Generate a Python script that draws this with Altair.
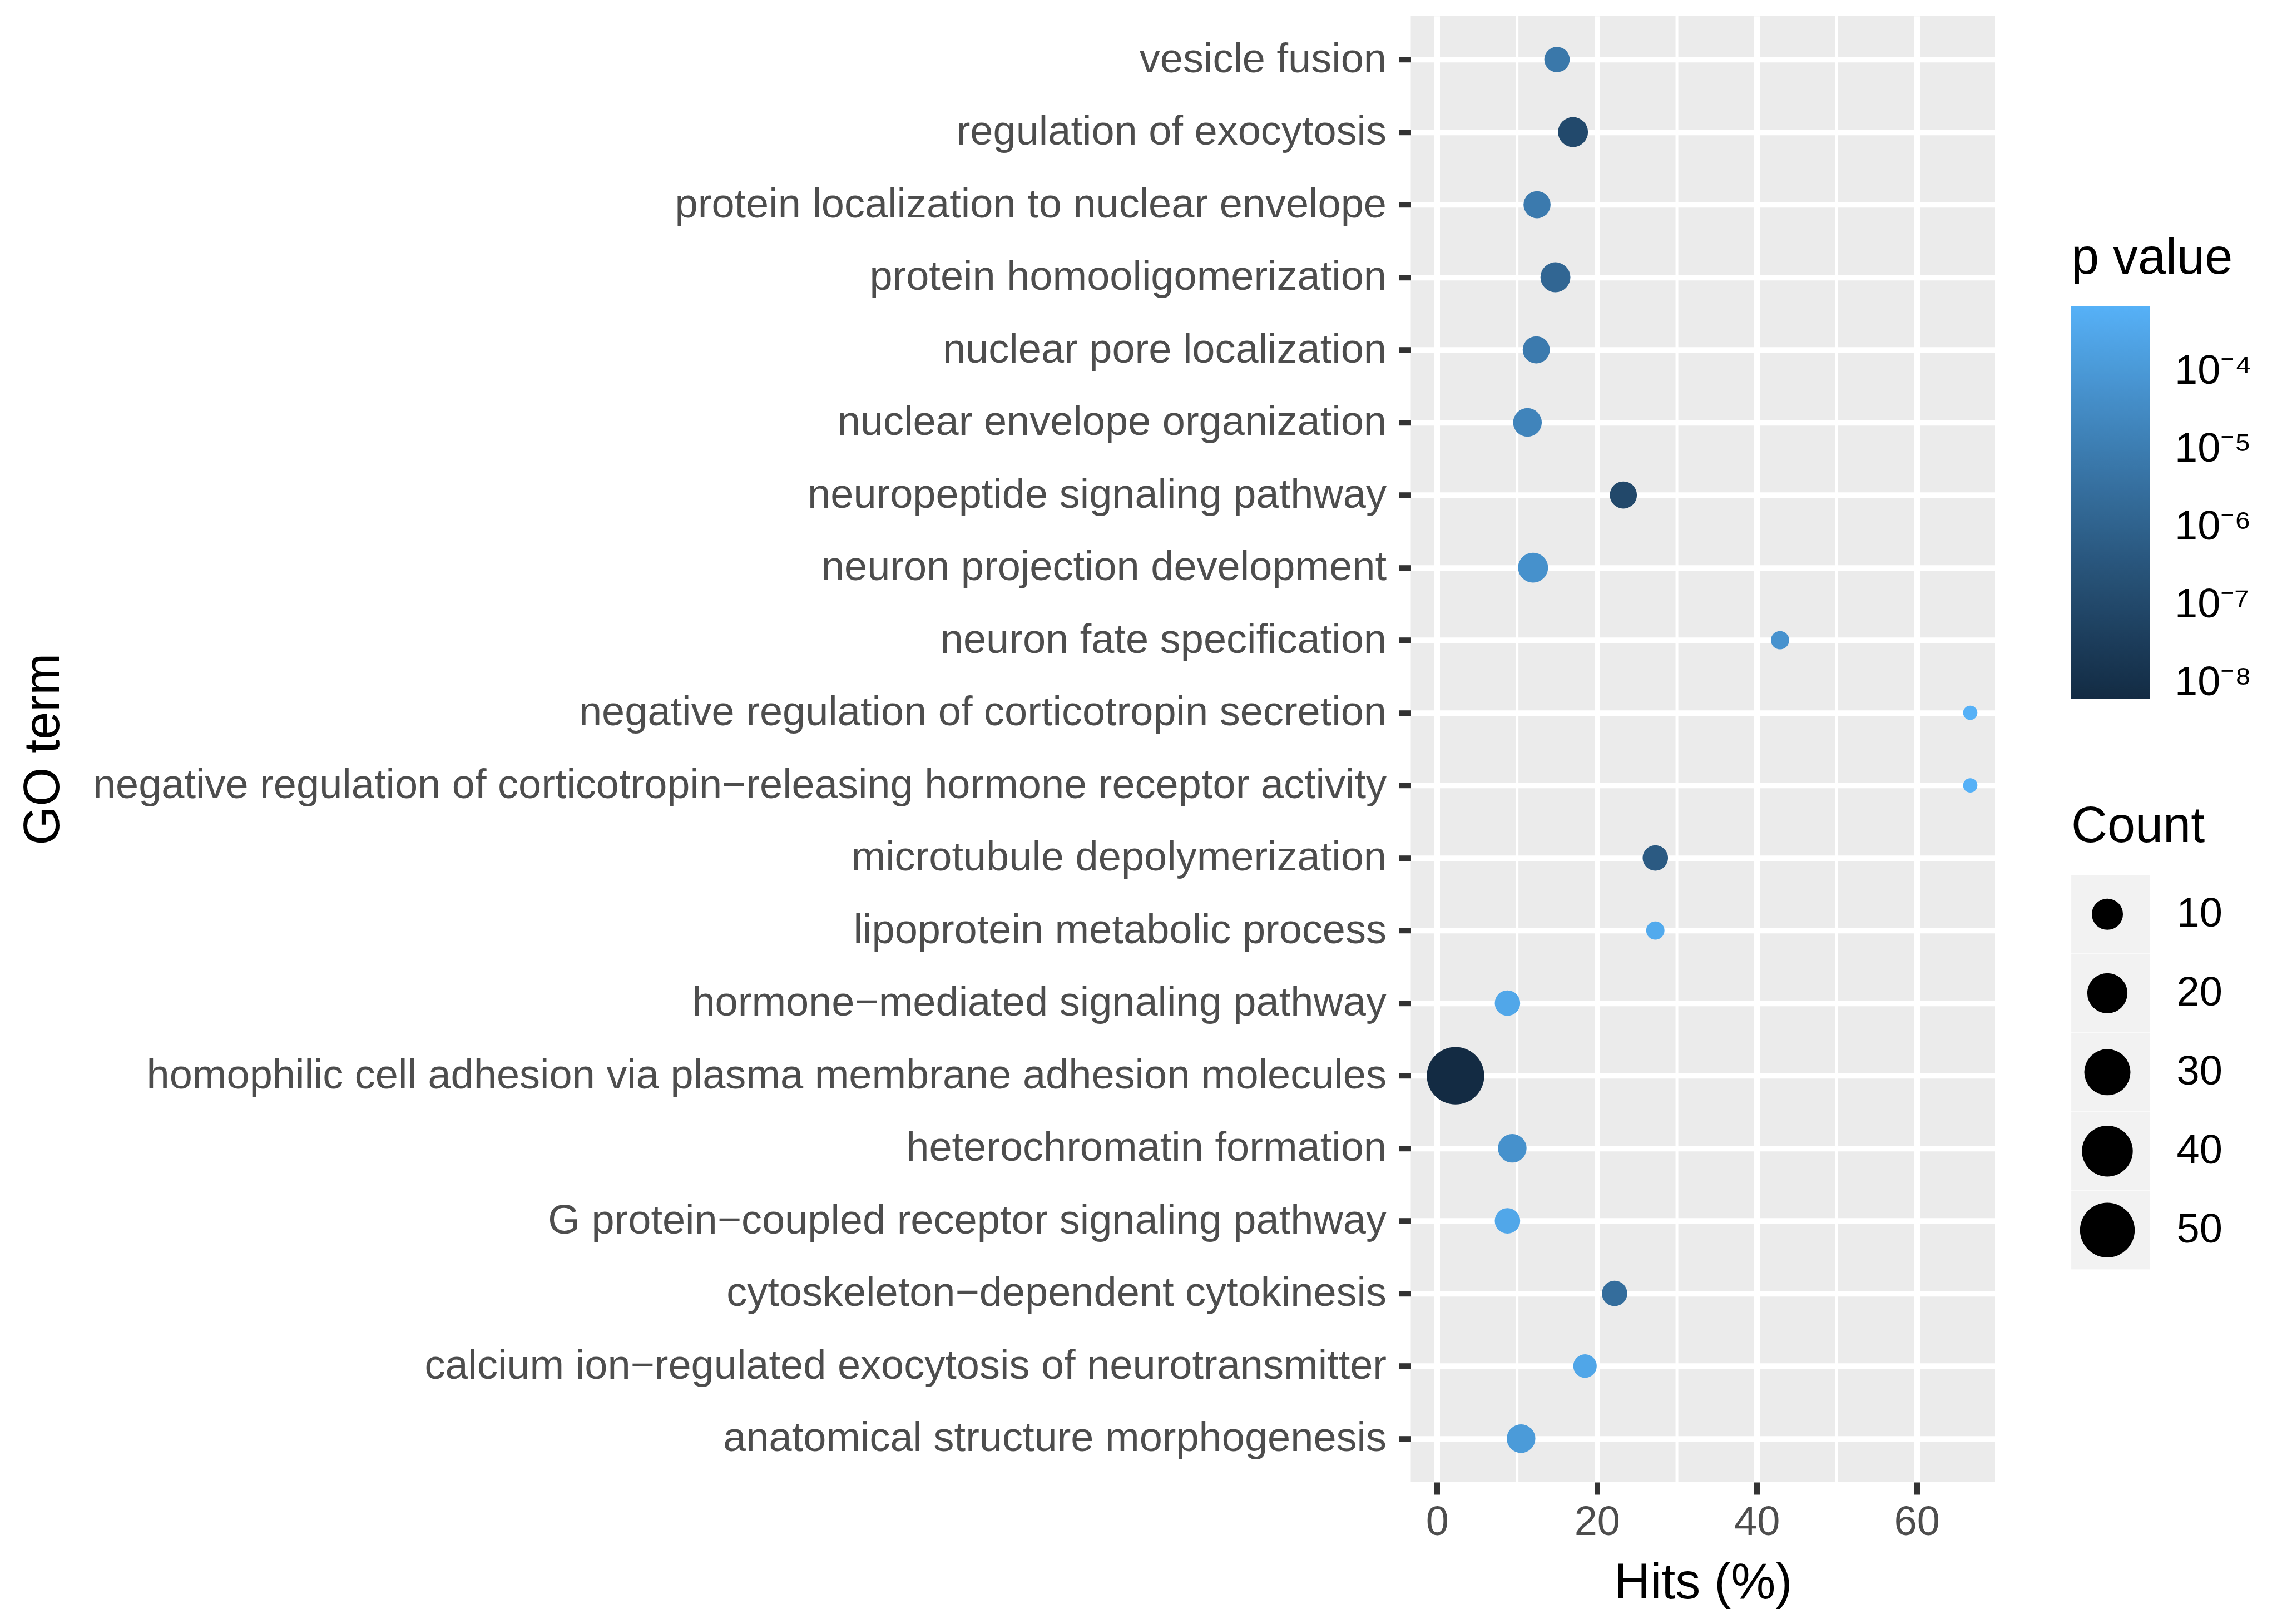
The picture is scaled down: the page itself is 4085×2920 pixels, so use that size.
import altair as alt
import pandas as pd

# ---------------- data ----------------
terms = [
    "vesicle fusion",
    "regulation of exocytosis",
    "protein localization to nuclear envelope",
    "protein homooligomerization",
    "nuclear pore localization",
    "nuclear envelope organization",
    "neuropeptide signaling pathway",
    "neuron projection development",
    "neuron fate specification",
    "negative regulation of corticotropin secretion",
    "negative regulation of corticotropin\u2212releasing hormone receptor activity",
    "microtubule depolymerization",
    "lipoprotein metabolic process",
    "hormone\u2212mediated signaling pathway",
    "homophilic cell adhesion via plasma membrane adhesion molecules",
    "heterochromatin formation",
    "G protein\u2212coupled receptor signaling pathway",
    "cytoskeleton\u2212dependent cytokinesis",
    "calcium ion\u2212regulated exocytosis of neurotransmitter",
    "anatomical structure morphogenesis",
]
hits = [15.0, 17.0, 12.5, 14.8, 12.4, 11.3, 23.3, 12.0, 42.9, 66.7,
        66.7, 27.3, 27.3, 8.8, 2.3, 9.4, 8.8, 22.2, 18.5, 10.5]
counts = [6, 9, 7, 9, 7, 8, 7, 9, 3, 2,
          2, 6, 3, 6, 58, 8, 6, 6, 5, 8]
pvalues = [6.6e-6, 1.1e-7, 8.3e-6, 1.5e-6, 8.3e-6, 1.9e-5, 1.0e-7, 5.4e-5, 6.0e-5, 6.9e-4,
           6.9e-4, 5.1e-7, 3.9e-4, 3.1e-4, 6.2e-9, 5.4e-5, 3.1e-4, 2.6e-6, 2.8e-4, 1.2e-4]

x_ticks = [0, 20, 40, 60]
x_minor = [10, 30, 50]
size_legend_values = [10, 20, 30, 40, 50]
p_ticks = [1e-8, 1e-7, 1e-6, 1e-5, 1e-4]
p_tick_labels = ["10\u207b\u2078", "10\u207b\u2077", "10\u207b\u2076", "10\u207b\u2075", "10\u207b\u2074"]

# ---------------- layout / style ----------------
FONT = "Liberation Sans"
W, H = 1050.5, 2636.3
PAD_L, PAD_T = 2528.5, 20.7
AXIS_TXT = 74
TITLE_TXT = 90
LEG_X = 1187.5

df = pd.DataFrame({"term": terms, "hits": hits, "count": counts, "p": pvalues})

label_expr = ""
for v, lab in zip(p_ticks[:-1], p_tick_labels[:-1]):
    label_expr += f"datum.value < {v * 3:.1e} ? '{lab}' : "
label_expr += f"'{p_tick_labels[-1]}'"

xscale = alt.Scale(domain=[-3.3, 69.8], nice=False, zero=False)
x_axis = alt.Axis(
    values=x_ticks, grid=True, gridColor="white", gridWidth=10,
    tickSize=22, tickWidth=10, tickColor="#333333", domain=False,
    labelFontSize=AXIS_TXT, labelColor="#4D4D4D", labelPadding=14, labelFont=FONT,
    titleFont=FONT, titleFontSize=TITLE_TXT, titleFontWeight="normal", titleColor="black",
    titleX=W / 2, titleY=208, titleBaseline="alphabetic",
)

minor = alt.Chart(pd.DataFrame({"v": x_minor})).mark_rule(
    color="white", strokeWidth=5
).encode(x=alt.X("v:Q", title="Hits (%)", scale=xscale, axis=x_axis))

points = alt.Chart(df).transform_calculate(bg="datum.count").mark_circle(opacity=1).encode(
    x=alt.X("hits:Q", title="Hits (%)", scale=xscale, axis=x_axis),
    y=alt.Y(
        "term:N", sort=terms, title="GO term", scale=alt.Scale(padding=0.6),
        axis=alt.Axis(
            grid=True, gridColor="white", gridWidth=10,
            tickSize=22, tickWidth=10, tickColor="#333333", domain=False,
            labelFontSize=AXIS_TXT, labelColor="#4D4D4D", labelPadding=22, labelFont=FONT,
            labelLimit=4000,
            titleFont=FONT, titleFontSize=TITLE_TXT, titleFontWeight="normal", titleColor="black",
            titleX=105 - (PAD_L + 8), titleY=H / 2, titleBaseline="alphabetic",
        ),
    ),
    color=alt.Color(
        "p:Q",
        scale=alt.Scale(type="log", domain=[6.2e-9, 6.9e-4],
                        range=["#132B43", "#56B1F7"], interpolate="lab"),
        legend=alt.Legend(
            title="p value", orient="none", legendX=LEG_X, legendY=392.3,
            direction="vertical", gradientLength=706, gradientThickness=142,
            gradientStrokeWidth=0, padding=0,
            titleFont=FONT, titleFontSize=TITLE_TXT, titleFontWeight="normal",
            titleColor="black", titlePadding=40, titleLimit=2000,
            labelFont=FONT, labelFontSize=AXIS_TXT, labelColor="black", labelOffset=44,
            values=p_ticks, labelExpr=label_expr, zindex=1,
        ),
    ),
    size=alt.Size(
        "count:Q",
        scale=alt.Scale(type="pow", exponent=0.6, domain=[2, 58], range=[660, 10660]),
        legend=alt.Legend(
            title=None, orient="none", legendX=LEG_X, legendY=1414.3 + 130,
            values=size_legend_values, symbolType="circle",
            symbolFillColor="black", symbolStrokeWidth=0, symbolOpacity=1,
            symbolOffset=15.5,
            clipHeight=141.6, rowPadding=0, padding=0,
            labelFont=FONT, labelFontSize=AXIS_TXT, labelColor="black", labelOffset=75,
            zindex=2,
        ),
    ),
    strokeWidth=alt.StrokeWidth(
        "bg:Q", scale=alt.Scale(range=[0, 0]),
        legend=alt.Legend(
            title="Count", orient="none", legendX=LEG_X, legendY=1414.3,
            values=size_legend_values, symbolType="square", symbolSize=20107,
            symbolFillColor="#F2F2F2", symbolStrokeColor="#F2F2F2", symbolOpacity=1,
            clipHeight=141.6, rowPadding=0, padding=0,
            titleFont=FONT, titleFontSize=TITLE_TXT, titleFontWeight="normal",
            titleColor="black", titlePadding=40, titleLimit=2000,
            labelFont=FONT, labelFontSize=AXIS_TXT, labelExpr="''",
            zindex=0,
        ),
    ),
)

chart = alt.layer(minor, points).properties(
    width=W, height=H,
    autosize=alt.AutoSizeParams(type="none"),
    padding={"left": PAD_L, "top": PAD_T, "right": 4085 - 16 - PAD_L - W, "bottom": 2920 - 16 - PAD_T - H},
    background="white",
).configure(font=FONT).configure_view(fill="#EBEBEB", stroke=None)

chart.save("out.html", embed_options={"renderer": "svg", "actions": False})
